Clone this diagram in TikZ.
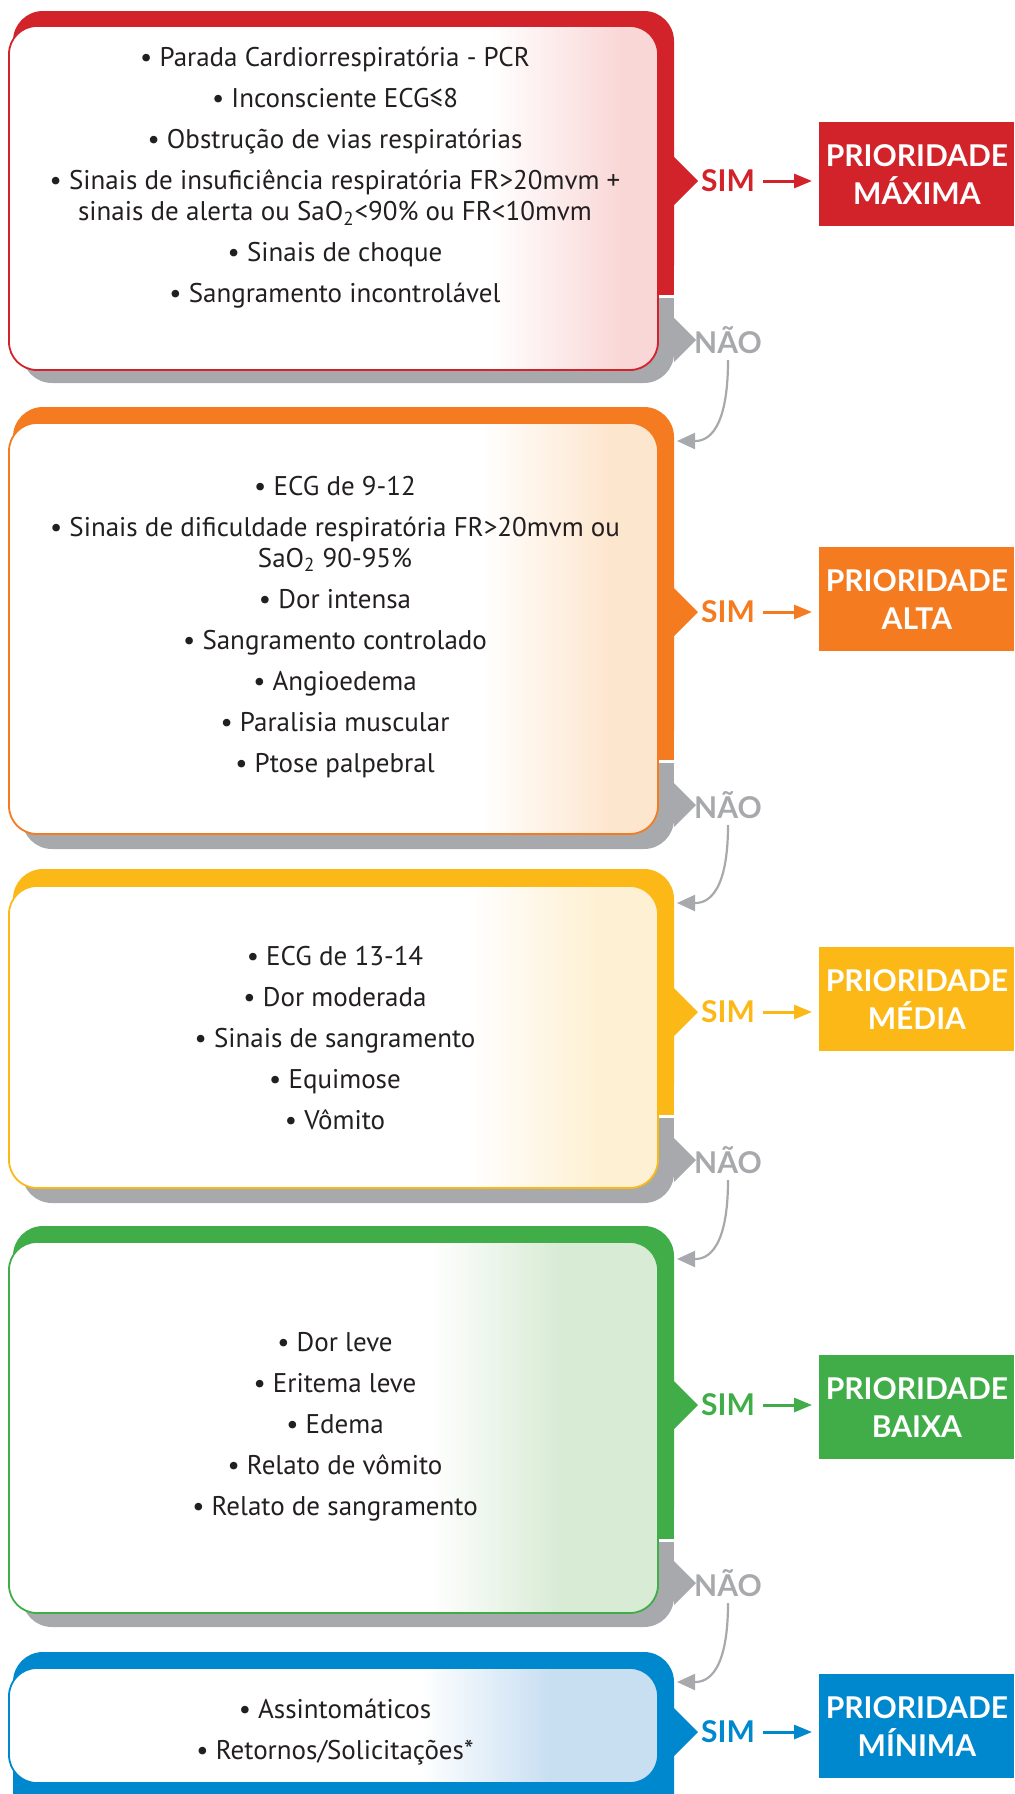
\documentclass[tikz,border=0pt]{standalone}
\usepackage{fontspec}
\setmainfont{PT Sans}
\newfontfamily\rotulo{Lato}
\usetikzlibrary{arrows.meta}

\definecolor{vermelho}{HTML}{D2232A}
\definecolor{laranja}{HTML}{F47B20}
\definecolor{amarelo}{HTML}{FBB817}
\definecolor{verde}{HTML}{41AD49}
\definecolor{azul}{HTML}{0088CE}
\definecolor{cinza}{HTML}{A7A9AC}
\definecolor{texto}{HTML}{231F20}
\definecolor{rosa}{HTML}{FAD7D7}
\definecolor{pessego}{HTML}{FDE6CE}
\definecolor{creme}{HTML}{FEF0D2}
\definecolor{menta}{HTML}{D8EBD5}
\definecolor{celeste}{HTML}{C8DFF2}

\begin{document}
\begin{tikzpicture}[x=0.5pt, y=-0.5pt, >={Triangle[length=9pt,width=7pt]},
	item/.style={text=texto, align=center, font=\fontsize{13.5}{15.5}\selectfont},
	sim/.style={font=\rotulo\bfseries\fontsize{15}{15}\selectfont, inner sep=0pt},
	nao/.style={sim, text=cinza},
	prioridade/.style={fill=#1, text=white, align=center, inner sep=0pt, anchor=north west,
		minimum width=97.5pt, minimum height=52pt, font=\rotulo\bfseries\fontsize{15}{19}\selectfont},
	seta/.style={->, line width=1.5pt, shorten <=4pt, shorten >=3.5pt},
	volta/.style={->, cinza, line width=1.1pt, shorten <=3pt, >={Triangle[length=9pt,width=8pt]}}]
	\useasboundingbox (0,0) rectangle (1014,1794);
	\clip (0,0) rectangle (1014,1794);
	% paineis com sombra
	\foreach \cor/\tom/\topo/\faixa/\ct/\cb/\sb/\ys/\yn/\g in {
		vermelho/rosa/11/295/26/370/383/181/340/490,
		laranja/pessego/407/760/423/834/849/612/805/480,
		amarelo/creme/869/1115/886/1188/1203/1012/1160/470,
		verde/menta/1226/1539/1242/1613/1627/1405/1583/430} {
		\fill[cinza, rounded corners=15pt] (22,\faixa+3) rectangle (674,\sb);
		\fill[cinza] (22,\faixa+3) rectangle (674,\sb-40);
		\fill[cinza] (674,\yn-22) -- (696,\yn) -- (674,\yn+22) -- cycle;
		\fill[\cor, rounded corners=15pt] (13,\topo) rectangle (674,\faixa);
		\fill[\cor] (13,\topo+40) rectangle (674,\faixa);
		\fill[\cor] (674,\ys-24) -- (698,\ys) -- (674,\ys+24) -- cycle;
		\begin{scope}
			\clip[rounded corners=14pt] (9,\ct) rectangle (658,\cb);
			\fill[white] (9,\ct) rectangle (658,\cb);
			\shade[left color=white, right color=\tom] (\g,\ct) rectangle (\g+130,\cb);
			\fill[\tom] (\g+130,\ct) rectangle (658,\cb);
		\end{scope}
		\draw[\cor, line width=0.9pt, rounded corners=14pt] (9,\ct) rectangle (658,\cb);
	}
	% ultimo painel (sem sombra)
	\fill[azul, rounded corners=15pt] (13,1652) rectangle (674,1830);
	\fill[azul] (674,1708) -- (698,1732) -- (674,1756) -- cycle;
	\begin{scope}
		\clip[rounded corners=14pt] (9,1668) rectangle (658,1783);
		\fill[white] (9,1668) rectangle (658,1783);
		\shade[left color=white, right color=celeste] (420,1668) rectangle (550,1783);
		\fill[celeste] (550,1668) rectangle (658,1783);
	\end{scope}
	\draw[azul, line width=0.9pt, rounded corners=14pt] (9,1668) rectangle (658,1783);

	% criterios
	\node[item] (crit1) at (335,178) {• Parada Cardiorrespiratória - PCR\\[5pt]
		• Inconsciente ECG≤8\\[5pt]
		• Obstrução de vias respiratórias\\[5pt]
		• Sinais de insuficiência respiratória FR>20mvm +\\
		sinais de alerta ou SaO\textsubscript{2}<90\% ou FR<10mvm\\[5pt]
		• Sinais de choque\\[5pt]
		• Sangramento incontrolável};
	\node[item] (crit2) at (335,627) {• ECG de 9-12\\[5pt]
		• Sinais de dificuldade respiratória FR>20mvm ou\\
		SaO\textsubscript{2} 90-95\%\\[5pt]
		• Dor intensa\\[5pt]
		• Sangramento controlado\\[5pt]
		• Angioedema\\[5pt]
		• Paralisia muscular\\[5pt]
		• Ptose palpebral};
	\node[item] (crit3) at (335,1038) {• ECG de 13-14\\[5pt]
		• Dor moderada\\[5pt]
		• Sinais de sangramento\\[5pt]
		• Equimose\\[5pt]
		• Vômito};
	\node[item] (crit4) at (335,1427) {• Dor leve\\[5pt]
		• Eritema leve\\[5pt]
		• Edema\\[5pt]
		• Relato de vômito\\[5pt]
		• Relato de sangramento};
	\node[item] (crit5) at (335,1732) {• Assintomáticos\\[5pt]
		• Retornos/Solicitações*};

	% prioridades
	\node[prioridade=vermelho] (maxima) at (819,122) {PRIORIDADE\\MÁXIMA};
	\node[prioridade=laranja] (alta) at (819,547) {PRIORIDADE\\ALTA};
	\node[prioridade=amarelo] (media) at (819,947) {PRIORIDADE\\MÉDIA};
	\node[prioridade=verde] (baixa) at (819,1355) {PRIORIDADE\\BAIXA};
	\node[prioridade=azul] (minima) at (819,1674) {PRIORIDADE\\MÍNIMA};

	\node[sim, text=vermelho] (sim1) at (728,181) {SIM};
	\node[sim, text=laranja] (sim2) at (728,612) {SIM};
	\node[sim, text=amarelo] (sim3) at (728,1012) {SIM};
	\node[sim, text=verde] (sim4) at (728,1405) {SIM};
	\node[sim, text=azul] (sim5) at (728,1732) {SIM};
	\draw[seta, vermelho] (sim1.east) -- (sim1.east -| maxima.west);
	\draw[seta, laranja] (sim2.east) -- (sim2.east -| alta.west);
	\draw[seta, amarelo] (sim3.east) -- (sim3.east -| media.west);
	\draw[seta, verde] (sim4.east) -- (sim4.east -| baixa.west);
	\draw[seta, azul] (sim5.east) -- (sim5.east -| minima.west);

	% caminho do nao
	\node[nao] (nao1) at (728,340) {NÃO};
	\node[nao] (nao2) at (728,805) {NÃO};
	\node[nao] (nao3) at (728,1160) {NÃO};
	\node[nao] (nao4) at (728,1583) {NÃO};
	\coordinate (ent2) at (677,441);
	\coordinate (ent3) at (677,903);
	\coordinate (ent4) at (677,1259);
	\coordinate (ent5) at (677,1682);
	\draw[volta] (nao1.south) .. controls (nao1.south |- ent2) and ([xshift=12pt]ent2) .. (ent2);
	\draw[volta] (nao2.south) .. controls (nao2.south |- ent3) and ([xshift=12pt]ent3) .. (ent3);
	\draw[volta] (nao3.south) .. controls (nao3.south |- ent4) and ([xshift=12pt]ent4) .. (ent4);
	\draw[volta] (nao4.south) .. controls (nao4.south |- ent5) and ([xshift=12pt]ent5) .. (ent5);
\end{tikzpicture}
\end{document}
